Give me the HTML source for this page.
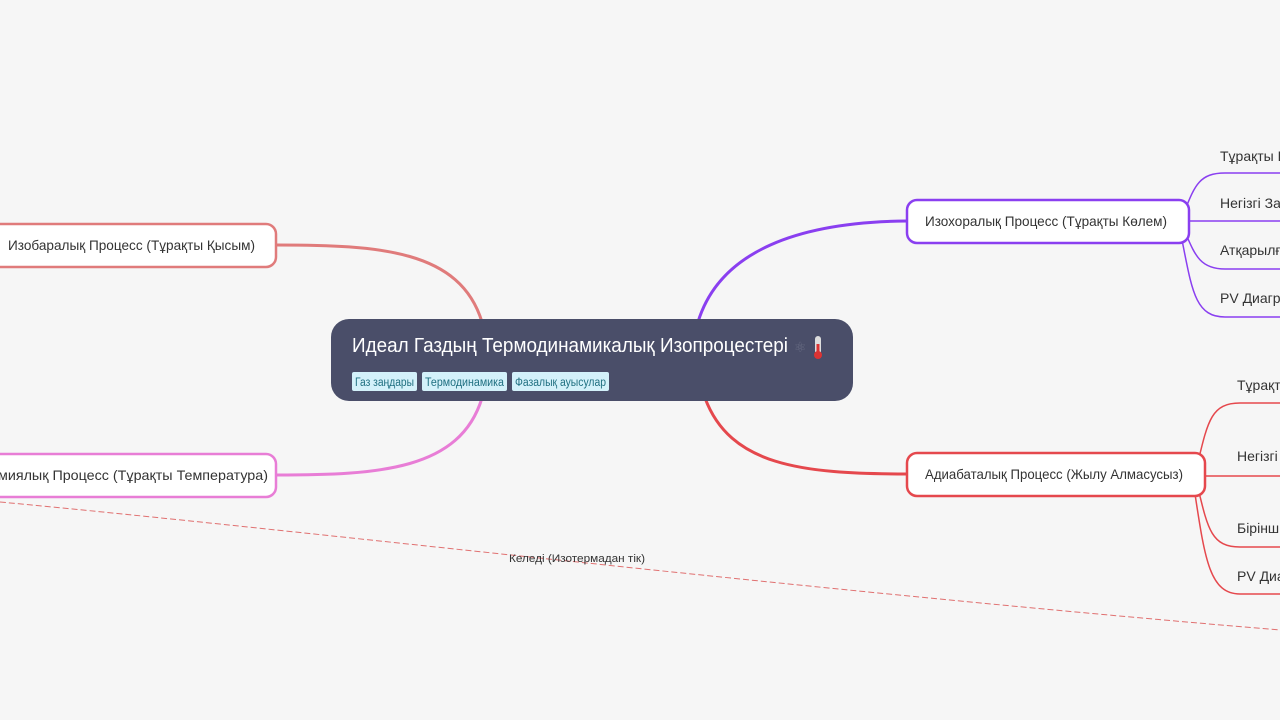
<!DOCTYPE html>
<html><head><meta charset="utf-8"><style>
html,body{margin:0;padding:0;background:#f6f6f6;width:1280px;height:720px;overflow:hidden}
svg{display:block}
text{font-family:"Liberation Sans","DejaVu Sans",sans-serif}
</style></head><body>
<svg width="1280" height="720" viewBox="0 0 1280 720" xmlns="http://www.w3.org/2000/svg">
<rect width="1280" height="720" fill="#f6f6f6"/>
<!-- dashed relation -->
<path d="M0,502 C300,530 800,590 1280,630" fill="none" stroke="#e07070" stroke-width="1" stroke-dasharray="6,3"/>
<text x="577" y="562" font-size="11" text-anchor="middle" fill="#333" textLength="136" lengthAdjust="spacingAndGlyphs">Келеді (Изотермадан тік)</text>
<!-- main branches -->
<path d="M482,322 C460,250 380,245 276,245" fill="none" stroke="#e07b7b" stroke-width="3"/>
<path d="M482,398 C460,470 380,475 276,475" fill="none" stroke="#e87dd6" stroke-width="3"/>
<path d="M698,322 C720,250 800,222 907,221" fill="none" stroke="#8a3ff0" stroke-width="3"/>
<path d="M705,398 C730,465 800,474 907,474" fill="none" stroke="#e5484d" stroke-width="3"/>
<!-- purple children -->
<g fill="none" stroke="#8a3ff0" stroke-width="1.5">
<path d="M1185,210 C1195,185 1200,173 1225,173 L1280,173"/>
<path d="M1189,221 L1280,221"/>
<path d="M1185,232 C1195,255 1200,269 1225,269 L1280,269"/>
<path d="M1182,240 C1192,290 1195,317 1225,317 L1280,317"/>
</g>
<g fill="none" stroke="#e5484d" stroke-width="1.5">
<path d="M1198,462 C1208,420 1212,403 1240,403 L1280,403"/>
<path d="M1205,476 L1280,476"/>
<path d="M1198,488 C1208,530 1212,547 1240,547 L1280,547"/>
<path d="M1195,494 C1205,560 1210,594 1240,594 L1280,594"/>
</g>
<g font-size="14" fill="#333">
<text x="1220" y="161">Тұрақты Көлем</text>
<text x="1220" y="208">Негізгі Заң</text>
<text x="1220" y="255">Атқарылған</text>
<text x="1220" y="303">PV Диаграмма</text>
<text x="1237" y="390">Тұрақты</text>
<text x="1237" y="461">Негізгі Заң</text>
<text x="1237" y="533">Бірінші</text>
<text x="1237" y="581">PV Диаграмма</text>
</g>
<!-- branch nodes -->
<rect x="-12" y="224" width="288" height="43" rx="10" fill="#fff" stroke="#e07b7b" stroke-width="2.5"/>
<text x="8" y="250" font-size="14" fill="#333" textLength="247" lengthAdjust="spacingAndGlyphs">Изобаралық Процесс (Тұрақты Қысым)</text>
<rect x="-12" y="454" width="288" height="43" rx="10" fill="#fff" stroke="#e87dd6" stroke-width="2.5"/>
<text x="268" y="480" font-size="14" fill="#333" text-anchor="end" textLength="270" lengthAdjust="spacingAndGlyphs">миялық Процесс (Тұрақты Температура)</text>
<rect x="907" y="200" width="282" height="43" rx="10" fill="#fff" stroke="#8a3ff0" stroke-width="2.5"/>
<text x="925" y="226" font-size="14" fill="#333" textLength="242" lengthAdjust="spacingAndGlyphs">Изохоралық Процесс (Тұрақты Көлем)</text>
<rect x="907" y="453" width="298" height="43" rx="10" fill="#fff" stroke="#e5484d" stroke-width="2.5"/>
<text x="925" y="479" font-size="14" fill="#333" textLength="258" lengthAdjust="spacingAndGlyphs">Адиабаталық Процесс (Жылу Алмасусыз)</text>
<!-- central -->
<rect x="331" y="319" width="522" height="82" rx="18" fill="#4a4e69"/>
<text x="352" y="352" font-size="20" fill="#fff" textLength="436" lengthAdjust="spacingAndGlyphs">Идеал Газдың Термодинамикалық Изопроцестері</text>
<text x="794" y="352" font-size="14" fill="#6a6e85">⚛</text>
<rect x="815" y="336" width="6" height="18" rx="3" fill="#ddd"/>
<circle cx="818" cy="355" r="4" fill="#d33"/>
<rect x="816.5" y="344" width="3" height="10" fill="#d33"/>
<g font-size="11.5" fill="#1f6f80">
<rect x="352" y="372" width="65" height="19" rx="2" fill="#d3f1fa"/>
<text x="355" y="386" textLength="59" lengthAdjust="spacingAndGlyphs">Газ заңдары</text>
<rect x="422" y="372" width="85" height="19" rx="2" fill="#d3f1fa"/>
<text x="425" y="386" textLength="79" lengthAdjust="spacingAndGlyphs">Термодинамика</text>
<rect x="512" y="372" width="97" height="19" rx="2" fill="#d3f1fa"/>
<text x="515" y="386" textLength="91" lengthAdjust="spacingAndGlyphs">Фазалық ауысулар</text>
</g>
</svg>
</body></html>
